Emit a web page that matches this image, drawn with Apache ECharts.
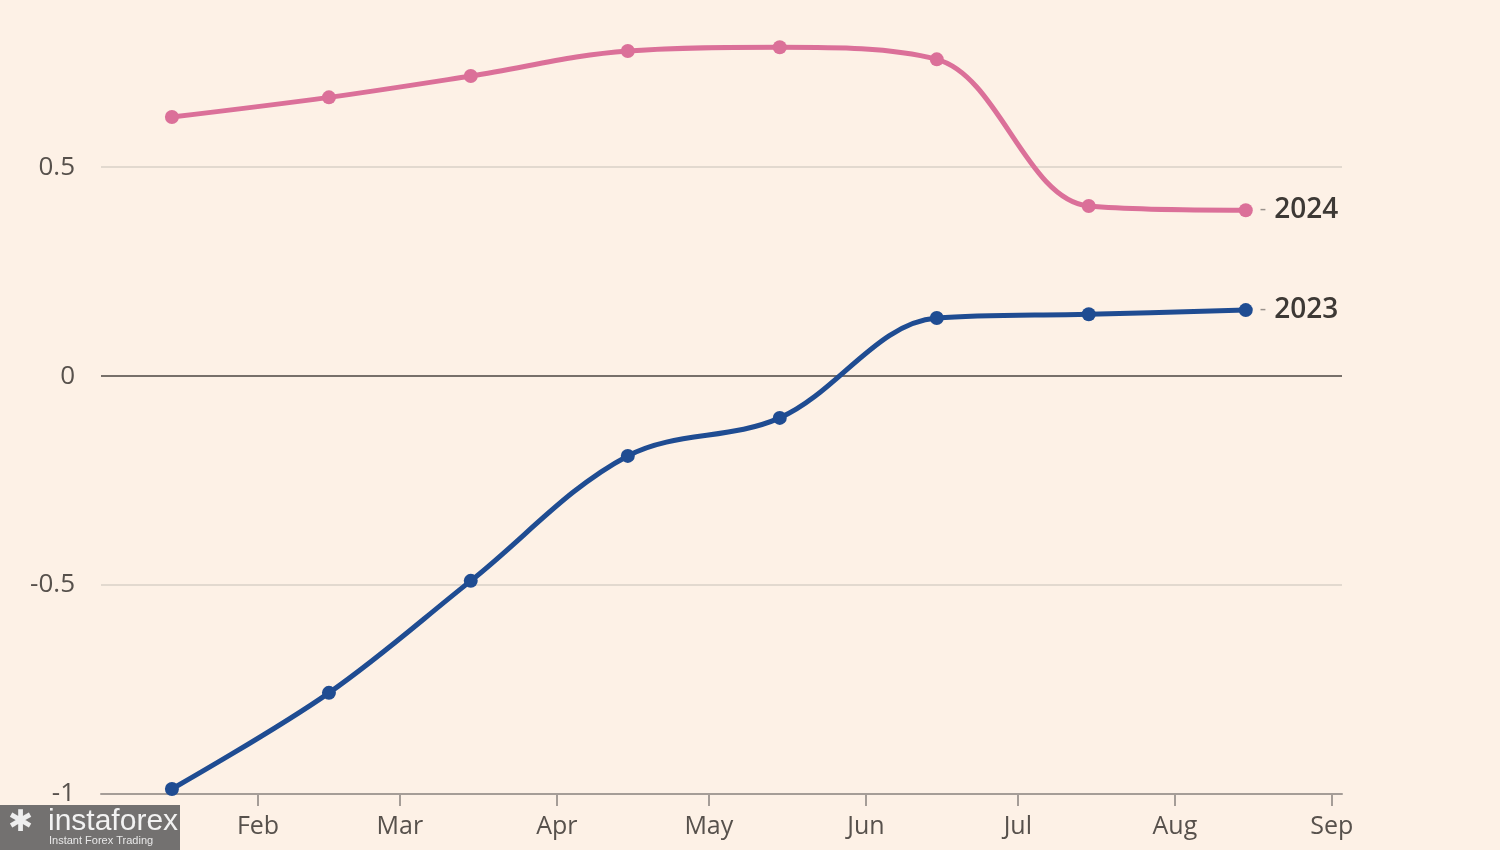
<!DOCTYPE html>
<html><head><meta charset="utf-8">
<script src="https://cdn.jsdelivr.net/npm/echarts@6/dist/echarts.min.js"></script>
<style>html,body{margin:0;padding:0;background:#FDF1E6;}#c{width:1500px;height:850px;}</style>
</head><body><div id="c"></div>
<script>
const dates = ['2023-01-15','2023-02-15','2023-03-15','2023-04-15','2023-05-15','2023-06-15','2023-07-15','2023-08-15'];
const values2024 = [0.62, 0.667, 0.718, 0.778, 0.787, 0.758, 0.407, 0.397];
const values2023 = [-0.988, -0.758, -0.490, -0.191, -0.100, 0.139, 0.148, 0.158];
const monthTicks = ['2023-02-01','2023-03-01','2023-04-01','2023-05-01','2023-06-01','2023-07-01','2023-08-01','2023-09-01'];
const monthNames = ['Jan','Feb','Mar','Apr','May','Jun','Jul','Aug','Sep','Oct','Nov','Dec'];
const yTicks = [-1, -0.5, 0, 0.5];

const ts = d => Date.parse(d + 'T00:00:00Z');
const chart = echarts.init(document.getElementById('c'));
const font = '"Open Sans", sans-serif';
function mk(name, vals, color){
  return {
    name: name, type: 'line', smooth: 0.35,
    data: dates.map((d,i)=>[ts(d), vals[i]]),
    symbol: 'circle', symbolSize: 14,
    lineStyle: {color: color, width: 5},
    itemStyle: {color: color},
    z: 5,
    endLabel: {
      show: true, distance: 14,
      formatter: '{d|-}{t|' + name + '}',
      rich: {
        d: {color: '#9a928c', fontSize: 20, fontFamily: font, padding: [0, 8, 2, 0]},
        t: {color: '#3d3935', fontSize: 28, fontFamily: font, fontWeight: 600}
      }
    }
  };
}
chart.setOption({
  backgroundColor: '#FDF1E6',
  animation: false,
  grid: {left: 101, right: 158, top: 0, bottom: 56},
  xAxis: {
    type: 'value',
    min: ts('2023-01-01'), max: ts('2023-09-03'),
    axisLine: {show: true, onZero: false, lineStyle: {color: '#a59d97', width: 2}},
    axisTick: {show: true, length: 12, lineStyle: {color: '#a59d97', width: 2},
      customValues: monthTicks.map(ts)},
    axisLabel: {color: '#57514c', fontSize: 25, fontFamily: font, margin: 20,
      customValues: monthTicks.map(ts),
      formatter: v => monthNames[new Date(v).getUTCMonth()]},
    splitLine: {show: false}
  },
  yAxis: {
    type: 'value', min: -1, max: 0.9, interval: 0.5,
    axisLine: {show: false}, axisTick: {show: false},
    axisLabel: {color: '#57514c', fontSize: 26, fontFamily: font, margin: 26,
      formatter: v => (yTicks.indexOf(Math.round(v*100)/100) >= 0 ? String(v) : '')},
    splitLine: {show: false}
  },
  series: [
    {type: 'line', data: [], z: 1, markLine: {silent: true, symbol: 'none', label: {show: false},
      lineStyle: {color: '#d9d0c7', width: 1.5, type: 'solid'}, data: [{yAxis: 0.5}, {yAxis: -0.5}]}},
    {type: 'line', data: [], z: 2, markLine: {silent: true, symbol: 'none', label: {show: false},
      lineStyle: {color: '#4a4540', width: 1.5, type: 'solid'}, data: [{yAxis: 0}]}},
    mk('2024', values2024, '#DB7099'),
    mk('2023', values2023, '#1F4C92')
  ],
  graphic: [
    {type: 'rect', left: 0, top: 805, shape: {width: 180, height: 45}, style: {fill: 'rgba(90,90,90,0.85)'}, z: 100},
    {type: 'text', left: 8, top: 808, style: {text: '✱', fill: '#eeeeee', font: '30px sans-serif'}, z: 101},
    {type: 'text', left: 48, top: 807, style: {text: 'instaforex', fill: '#f2f2f2', font: '30px "Liberation Sans", sans-serif'}, z: 101},
    {type: 'text', left: 49, top: 835, style: {text: 'Instant Forex Trading', fill: '#e8e8e8', font: '11px "Liberation Sans", sans-serif'}, z: 101}
  ]
});
</script></body></html>
